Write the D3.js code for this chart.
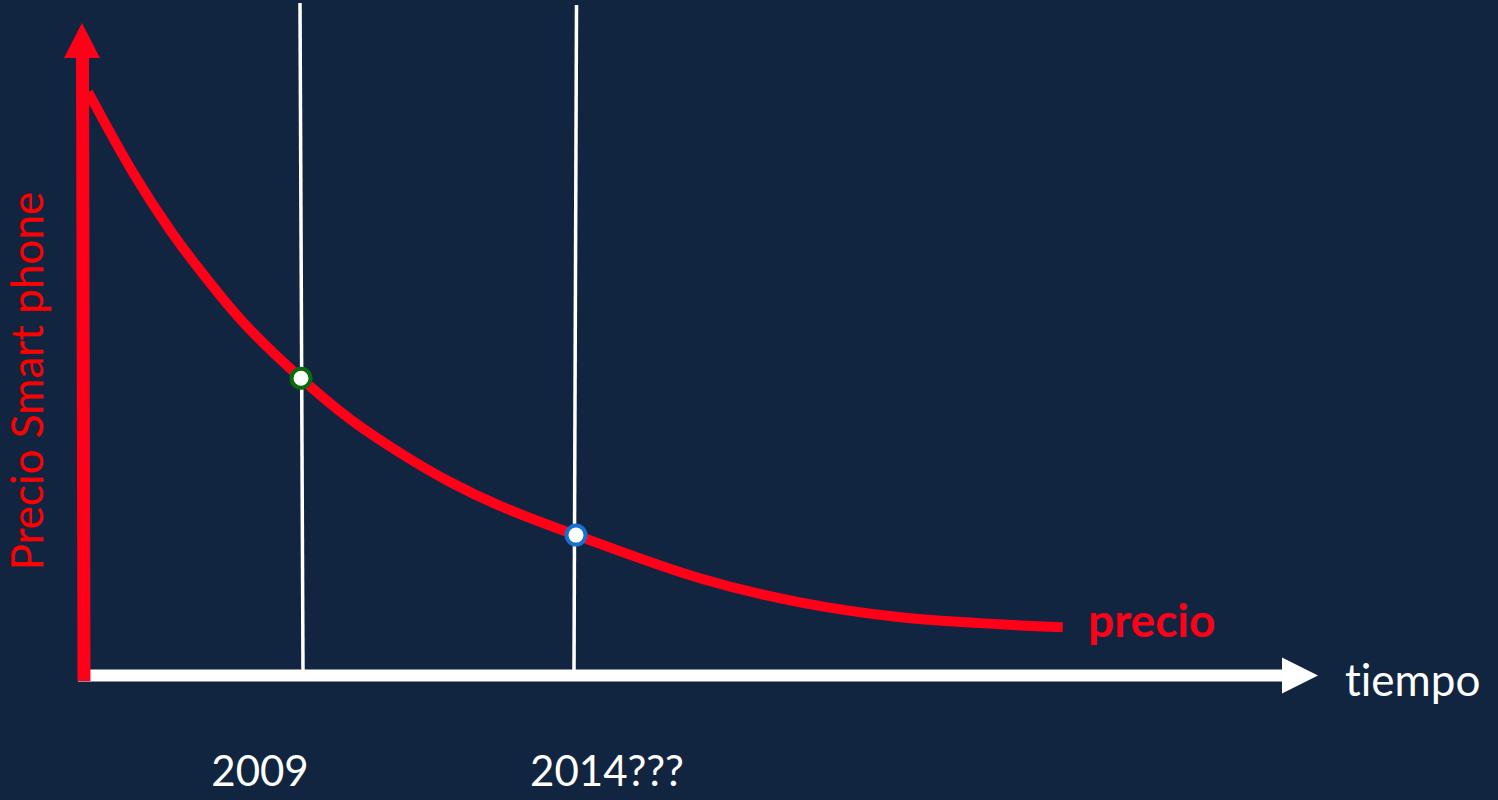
<!DOCTYPE html>
<html lang="es">
<head>
  <meta charset="utf-8">
  <title>Precio Smart phone</title>
  <style>
    html, body { margin: 0; padding: 0; background: #112540; }
    svg { display: block; }
    text { font-family: Lato, "Open Sans", sans-serif; font-variant-ligatures: none; }
  </style>
</head>
<body>
  <div id="chart"></div>

  <script src="https://d3js.org/d3.v7.min.js"></script>
  <script>
    // curve (time in years, price in arbitrary units)
    const years  = [2005.13, 2005.95, 2006.62, 2007.16, 2007.95, 2009, 2009.89, 2010.8, 2011.71, 2012.62, 2014, 2016.25, 2018.05, 2019.9, 2021.7, 2022.85];
    const prices = [100, 86.1, 76.3, 69.5, 60.5, 50.9, 43.9, 38.1, 33.1, 29.0, 24, 16.6, 12.5, 9.9, 8.7, 8.2];

    const markYears  = [2009, 2014];
    const markPrices = [50.9, 24];
    const markColors = ['#0b6a0b', '#1a6fd0'];
    const markLabels = ['2009', '2014???'];

    const width = 1498;
    const height = 800;
    const red = '#ff0019';

    const x = d3.scaleLinear().domain([2005, 2027]).range([81, 1291]);
    const y = d3.scaleLinear().domain([0, 100]).range([675, 92]);

    const svg = d3.select('#chart').append('svg')
      .attr('width', width)
      .attr('height', height)
      .attr('viewBox', [0, 0, width, height]);

    svg.append('rect')
      .attr('width', width).attr('height', height)
      .attr('fill', '#112540');

    // vertical year lines
    svg.selectAll('line.year')
      .data(markYears)
      .enter().append('line')
      .attr('class', 'year')
      .attr('x1', (d, i) => x(d) + (i === 0 ? -1 : 0.5))
      .attr('x2', (d, i) => x(d) + (i === 0 ? 2 : -2))
      .attr('y1', (d, i) => i === 0 ? 3 : 5)
      .attr('y2', y(0) - 5)
      .attr('stroke', '#fff')
      .attr('stroke-width', 3.5);

    // x axis (white arrow)
    const x0 = 78, xEnd = 1318, ax = y(0) + 0.5;
    svg.append('line')
      .attr('x1', x0).attr('x2', xEnd - 34)
      .attr('y1', ax).attr('y2', ax)
      .attr('stroke', '#fff').attr('stroke-width', 12);
    svg.append('path')
      .attr('d', `M${xEnd},${ax}L${xEnd - 36},${ax - 18}L${xEnd - 36},${ax + 18}Z`)
      .attr('fill', '#fff');

    // y axis (red arrow)
    svg.append('line')
      .attr('x1', 84).attr('x2', 82.5)
      .attr('y1', y(0) + 6).attr('y2', 56)
      .attr('stroke', red).attr('stroke-width', 13);
    svg.append('path')
      .attr('d', 'M82,23L64,58L100,58Z')
      .attr('fill', red);

    // price curve
    const pts = years.map((d, i) => [d, prices[i]]);
    const line = d3.line()
      .x(d => x(d[0]))
      .y(d => y(d[1]))
      .curve(d3.curveCatmullRom.alpha(0.5));

    svg.append('path')
      .datum(pts)
      .attr('d', line)
      .attr('fill', 'none')
      .attr('stroke', red)
      .attr('stroke-width', 10);

    // markers
    svg.selectAll('circle.mark')
      .data(markYears)
      .enter().append('circle')
      .attr('class', 'mark')
      .attr('cx', d => x(d))
      .attr('cy', (d, i) => y(markPrices[i]))
      .attr('r', 9.5)
      .attr('fill', '#fff')
      .attr('stroke', (d, i) => markColors[i])
      .attr('stroke-width', 4);

    // year labels under the axis
    svg.selectAll('text.yearlab')
      .data(markYears)
      .enter().append('text')
      .attr('class', 'yearlab')
      .attr('x', (d, i) => x(d) + (i === 0 ? -41 : 31))
      .attr('y', 786)
      .attr('text-anchor', 'middle')
      .attr('fill', '#fff')
      .attr('font-size', 42)
      .text((d, i) => markLabels[i]);

    svg.append('text')
      .attr('x', 1345)
      .attr('y', 696)
      .attr('fill', '#fff')
      .attr('font-size', 44)
      .text('tiempo');

    svg.append('text')
      .attr('x', 1088)
      .attr('y', 637)
      .attr('fill', red)
      .attr('font-size', 46)
      .attr('font-weight', 'bold')
      .text('precio');

    svg.append('text')
      .attr('transform', 'translate(43,381) rotate(-90)')
      .attr('text-anchor', 'middle')
      .attr('fill', '#ff0000')
      .attr('font-size', 44)
      .text('Precio Smart phone');
  </script>
</body>
</html>
